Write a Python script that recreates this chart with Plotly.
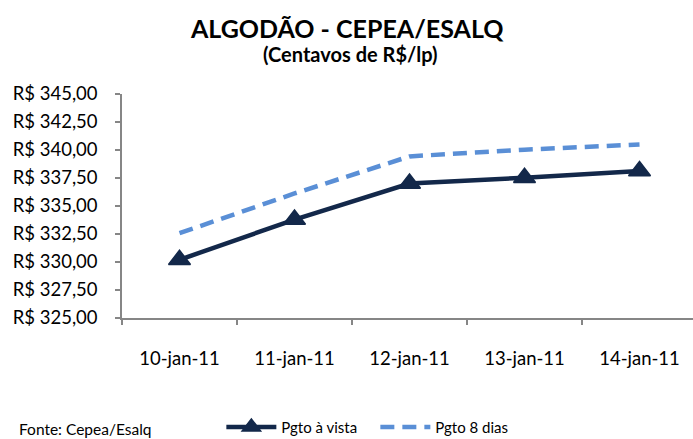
import plotly.graph_objects as go

categories = ["10-jan-11", "11-jan-11", "12-jan-11", "13-jan-11", "14-jan-11"]
pgto_vista = [330.20, 333.79, 337.01, 337.52, 338.13]
pgto_8dias = [332.57, 336.12, 339.43, 340.03, 340.50]
y_ticks = [325, 327.5, 330, 332.5, 335, 337.5, 340, 342.5, 345]
y_tick_labels = ["R$ " + f"{v:.2f}".replace(".", ",") for v in y_ticks]

FONT = "Lato"
dark = "#13284A"
light = "#5A8FD6"
axis_grey = "#868686"

fig = go.Figure()
fig.add_trace(go.Scatter(
    x=categories, y=pgto_vista, name="Pgto à vista", mode="lines+markers",
    line=dict(color=dark, width=4.5),
    marker=dict(symbol="triangle-up", size=19, color=dark, line=dict(color=dark, width=1.5)),
))
fig.add_trace(go.Scatter(
    x=categories, y=pgto_8dias, name="Pgto 8 dias", mode="lines",
    line=dict(color=light, width=4.5, dash="14px,8px"),
))

fig.update_layout(
    width=693, height=439,
    margin=dict(l=122, r=0, t=94, b=121, autoexpand=False),
    paper_bgcolor="white", plot_bgcolor="white",
    font=dict(family=FONT, size=16, color="#000000"),
    showlegend=True,
    legend=dict(
        orientation="h", x=0.174, xanchor="left",
        yref="container", y=0.027, yanchor="middle",
        font=dict(family=FONT, size=15), bgcolor="rgba(0,0,0,0)",
        itemwidth=50, entrywidth=89, entrywidthmode="pixels", tracegroupgap=0,
    ),
    annotations=[
        dict(text="<b>ALGODÃO - CEPEA/ESALQ</b>", xref="paper", yref="paper",
             x=0.3944, y=1.2946, xanchor="center", yanchor="middle", showarrow=False,
             font=dict(family=FONT, size=25, color="#000000")),
        dict(text="<b>(Centavos de R$/lp)</b>", xref="paper", yref="paper",
             x=0.400, y=1.1786, xanchor="center", yanchor="middle", showarrow=False,
             font=dict(family=FONT, size=20, color="#000000")),
        dict(text="Fonte: Cepea/Esalq", xref="paper", yref="paper",
             x=-0.184, y=-0.496, xanchor="left", yanchor="middle", showarrow=False,
             font=dict(family=FONT, size=15.5, color="#000000")),
    ],
)
fig.update_xaxes(
    type="category", range=[-0.5, 4.465], automargin=False,
    showline=True, linecolor=axis_grey, linewidth=1.5,
    ticks="outside", ticklen=5, tickcolor=axis_grey, tickwidth=1.5,
    tickson="boundaries", showgrid=False, zeroline=False,
    ticklabelstandoff=23,
    tickfont=dict(family=FONT, size=18.5),
)
fig.update_yaxes(
    range=[325, 345], tickmode="array", tickvals=y_ticks, ticktext=y_tick_labels,
    automargin=False,
    showline=True, linecolor=axis_grey, linewidth=1.5,
    ticks="outside", ticklen=5, tickcolor=axis_grey, tickwidth=1.5,
    showgrid=False, zeroline=False, ticklabelstandoff=14,
    tickfont=dict(family=FONT, size=18.5),
)

fig.write_html("out.html", config={"displayModeBar": False},
               post_script="document.body.style.margin='0';")
